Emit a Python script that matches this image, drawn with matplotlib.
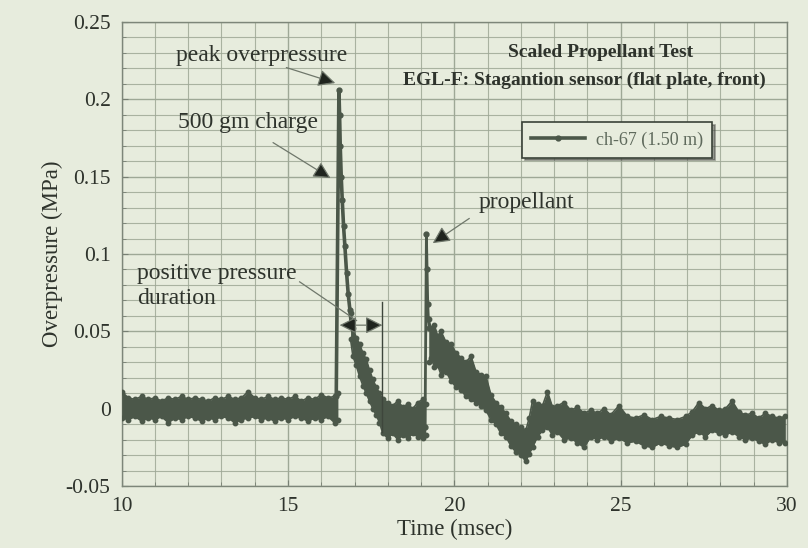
import matplotlib
matplotlib.use("Agg")
import matplotlib.pyplot as plt
from matplotlib.ticker import MultipleLocator

plt.rcParams.update({
    "font.family": ["Liberation Serif", "DejaVu Serif"],
    "font.size": 15,
})

BG = "#e7ecdd"
GRID = "#9ea896"
TRACE = "#4b5749"
TEXT = "#2e332c"

# --- trace (msec, MPa) ---
# quiet baseline before arrival: band envelope
base_t = [10.0, 10.2, 10.4, 10.6, 10.8, 11.0, 11.2, 11.4, 11.6, 11.8, 12.0, 12.2,
          12.4, 12.6, 12.8, 13.0, 13.2, 13.4, 13.6, 13.8, 14.0, 14.2, 14.4, 14.6,
          14.8, 15.0, 15.2, 15.4, 15.6, 15.8, 16.0, 16.2, 16.4, 16.5]
base_hi = [0.011, 0.007, 0.006, 0.008, 0.006, 0.007, 0.005, 0.007, 0.006, 0.008, 0.006, 0.007,
           0.006, 0.005, 0.007, 0.006, 0.008, 0.006, 0.007, 0.011, 0.007, 0.006, 0.008, 0.006,
           0.007, 0.006, 0.008, 0.005, 0.007, 0.006, 0.009, 0.007, 0.008, 0.010]
base_lo = [-0.006, -0.007, -0.005, -0.008, -0.006, -0.007, -0.005, -0.009, -0.006, -0.007, -0.005, -0.006,
           -0.008, -0.006, -0.007, -0.005, -0.006, -0.009, -0.007, -0.006, -0.005, -0.007, -0.006, -0.008,
           -0.006, -0.007, -0.005, -0.006, -0.008, -0.006, -0.007, -0.005, -0.009, -0.007]

# main charge shock
shock1_t = [16.45, 16.53, 16.55, 16.57, 16.60, 16.63, 16.67, 16.71, 16.76, 16.81, 16.86, 16.90]
shock1_p = [0.008, 0.206, 0.190, 0.170, 0.150, 0.135, 0.118, 0.105, 0.088, 0.074, 0.064, 0.055]

# decay after main shock
decay1_t = [16.88, 16.95, 17.05, 17.15, 17.25, 17.35, 17.45, 17.55, 17.65, 17.75, 17.85,
            18.0, 18.15, 18.3, 18.45, 18.6, 18.75, 18.9, 19.05, 19.14]
decay1_hi = [0.062, 0.052, 0.046, 0.042, 0.036, 0.032, 0.025, 0.019, 0.014, 0.010, 0.006,
             0.004, 0.002, 0.005, 0.001, 0.003, 0.000, 0.004, 0.006, 0.003]
decay1_lo = [0.045, 0.034, 0.028, 0.021, 0.015, 0.010, 0.005, 0.000, -0.004, -0.009, -0.016,
             -0.019, -0.016, -0.020, -0.017, -0.019, -0.016, -0.018, -0.019, -0.017]

# propellant spike
shock2_t = [19.12, 19.16, 19.18, 19.20, 19.22, 19.25]
shock2_p = [-0.012, 0.113, 0.090, 0.068, 0.058, 0.052]

# decay after propellant and late-time signal
decay2_t = [19.23, 19.3, 19.4, 19.5, 19.6, 19.75, 19.9, 20.05, 20.2, 20.35, 20.5, 20.65,
            20.8, 20.95, 21.1, 21.25, 21.4, 21.55, 21.7, 21.85, 22.0, 22.15, 22.25, 22.35,
            22.5, 22.65, 22.8, 22.95, 23.1, 23.3, 23.5, 23.7, 23.9, 24.1, 24.3, 24.5,
            24.7, 24.95, 25.2, 25.45, 25.7, 25.95, 26.2, 26.45, 26.7, 26.95, 27.15, 27.35,
            27.55, 27.75, 27.95, 28.15, 28.35, 28.55, 28.75, 28.95, 29.15, 29.35, 29.55,
            29.75, 29.95]
decay2_hi = [0.058, 0.052, 0.054, 0.047, 0.050, 0.043, 0.042, 0.036, 0.033, 0.030, 0.034, 0.024,
             0.022, 0.021, 0.009, 0.004, 0.001, -0.003, -0.008, -0.010, -0.012, -0.014, -0.006, 0.005,
             0.003, 0.002, 0.011, 0.001, 0.002, 0.004, -0.001, 0.001, -0.003, -0.001, -0.003, 0.000,
             -0.004, 0.002, -0.005, -0.006, -0.004, -0.007, -0.005, -0.006, -0.007, -0.005, -0.002, 0.004,
             0.000, 0.002, -0.001, 0.000, 0.005, -0.002, -0.004, -0.003, -0.006, -0.003, -0.005,
             -0.006, -0.005]
decay2_lo = [0.030, 0.033, 0.027, 0.028, 0.022, 0.024, 0.018, 0.014, 0.012, 0.008, 0.006, 0.004,
             0.002, -0.001, -0.007, -0.010, -0.016, -0.018, -0.024, -0.028, -0.030, -0.034, -0.029, -0.025,
             -0.018, -0.014, -0.012, -0.017, -0.015, -0.020, -0.019, -0.022, -0.025, -0.018, -0.020, -0.018,
             -0.021, -0.019, -0.022, -0.021, -0.024, -0.025, -0.022, -0.024, -0.025, -0.023, -0.017, -0.015,
             -0.018, -0.014, -0.016, -0.017, -0.015, -0.018, -0.020, -0.019, -0.021, -0.023, -0.020,
             -0.022, -0.022]

# positive pressure duration markers
dur_start, dur_end, dur_level = 16.55, 17.84, 0.054
dur_tick_lo, dur_tick_hi = -0.015, 0.069

# annotations: (text, text position, arrow tail, arrow tip)
notes = [
    ("peak overpressure", (14.2, 0.228), (14.95, 0.2205), (16.42, 0.2105)),
    ("500 gm charge", (13.8, 0.185), (14.55, 0.172), (16.28, 0.149)),
    ("propellant", (22.17, 0.1336), (20.45, 0.123), (19.35, 0.107)),
]

fig = plt.figure(figsize=(8.08, 5.48), dpi=100, facecolor=BG)
ax = fig.add_axes([0.1506, 0.113, 0.8234, 0.847], facecolor=BG)

ax.set_xlim(10, 30)
ax.set_ylim(-0.05, 0.25)
ax.xaxis.set_major_locator(MultipleLocator(5))
ax.xaxis.set_minor_locator(MultipleLocator(1))
ax.yaxis.set_major_locator(MultipleLocator(0.05))
ax.yaxis.set_minor_locator(MultipleLocator(0.01))
ax.grid(which="major", color=GRID, linewidth=1.0)
ax.grid(which="minor", color=GRID, linewidth=0.8, alpha=0.85)
ax.set_axisbelow(True)
ax.tick_params(which="both", direction="in", colors="#777f73", labelcolor=TEXT,
               labelsize=15.5, pad=8)
ax.tick_params(which="major", length=4)
ax.tick_params(which="minor", length=3)
ax.set_yticks([-0.05, 0, 0.05, 0.1, 0.15, 0.2, 0.25])
ax.set_yticklabels(["-0.05", "0", "0.05", "0.1", "0.15", "0.2", "0.25"])
for s in ax.spines.values():
    s.set_color("#7d8679")
    s.set_linewidth(1.0)

ax.set_xlabel("Time (msec)", fontsize=16.5, color=TEXT, labelpad=2)
ax.set_ylabel("Overpressure (MPa)", fontsize=16.5, color=TEXT, labelpad=2)

# noisy trace drawn as envelope band with jagged edges
for tt, hi, lo in [(base_t, base_hi, base_lo),
                   (decay1_t, decay1_hi, decay1_lo),
                   (decay2_t, decay2_hi, decay2_lo)]:
    ax.fill_between(tt, lo, hi, color=TRACE, linewidth=0, zorder=3)
    ax.plot(tt, hi, color=TRACE, lw=1.2, marker="o", ms=3.2, zorder=3)
    ax.plot(tt, lo, color=TRACE, lw=1.2, marker="o", ms=3.2, zorder=3)

ax.plot(shock1_t, shock1_p, color=TRACE, lw=2.6, marker="o", ms=3.5, zorder=4,
        label="ch-67 (1.50 m)")
ax.plot(shock1_t[:2], shock1_p[:2], color=TRACE, lw=1.4, zorder=4)
ax.plot(shock2_t, shock2_p, color=TRACE, lw=2.0, marker="o", ms=3.5, zorder=4)

# duration markers
ax.plot([dur_end, dur_end], [dur_tick_lo, dur_tick_hi], color="#3e463c", lw=1.0, zorder=5)
ax.annotate("", xy=(dur_start, dur_level), xytext=(dur_end, dur_level),
            arrowprops=dict(arrowstyle="<|-|>", mutation_scale=26, lw=0.9,
                            fc="#1f241e", ec="#6f776b", shrinkA=0, shrinkB=0),
            zorder=6)

for text, tpos, tail, tip in notes:
    ax.text(tpos[0], tpos[1], text, fontsize=17, color=TEXT, ha="center", va="center",
            zorder=6)
    ax.annotate("", xy=tip, xytext=tail,
                arrowprops=dict(arrowstyle="-|>", mutation_scale=26, lw=0.9,
                                fc="#1f241e", ec="#6f776b", shrinkA=0, shrinkB=0),
                zorder=6)

ax.text(10.45, 0.0795, "positive pressure\nduration", fontsize=17, color=TEXT,
        ha="left", va="center", linespacing=1.25, zorder=6)
ax.plot([15.35, 17.06], [0.082, 0.057], color="#6f776b", lw=0.9, zorder=6)

ax.text(24.4, 0.2305, "Scaled Propellant Test", fontsize=14, fontweight="bold",
        color=TEXT, ha="center", va="center", zorder=6)
ax.text(23.9, 0.2125, "EGL-F: Stagantion sensor (flat plate, front)", fontsize=14,
        fontweight="bold", color=TEXT, ha="center", va="center", zorder=6)

leg = ax.legend(loc="upper left", bbox_to_anchor=(0.602, 0.784), fontsize=13,
                frameon=True, fancybox=False, shadow=True, borderpad=0.5,
                borderaxespad=0, handlelength=3.0, handletextpad=0.6,
                framealpha=1, labelcolor="#5f6a5c")
leg.get_frame().set_facecolor(BG)
leg.get_frame().set_edgecolor("#3a4238")
leg.get_frame().set_linewidth(1.2)
leg.set_zorder(7)

fig.savefig("out.png", dpi=100, facecolor=BG)
